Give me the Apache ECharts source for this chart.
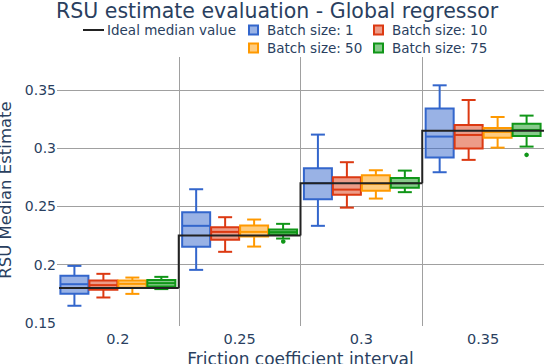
<!DOCTYPE html>
<html>
<head>
<meta charset="utf-8">
<script src="https://cdn.jsdelivr.net/npm/echarts@6/dist/echarts.min.js"></script>
<style>
  html, body { margin: 0; padding: 0; background: #fff; }
  #chart { width: 544px; height: 364px; }
</style>
</head>
<body>
<div id="chart"></div>
<script>
(function() {
  // friction coefficient intervals
  var categories = ['0.2', '0.25', '0.3', '0.35'];
  var idealMedian = [0.18, 0.225, 0.27, 0.315];

  // [lower whisker, q1, median, q3, upper whisker] per interval
  var batch1 = [
    [0.1648, 0.175, 0.1833, 0.1905, 0.199],
    [0.1956, 0.2154, 0.2334, 0.2451, 0.2648],
    [0.2334, 0.2562, 0.27, 0.2828, 0.3117],
    [0.2794, 0.292, 0.31, 0.334, 0.354]
  ];
  var batch10 = [
    [0.1719, 0.1785, 0.1825, 0.1864, 0.1922],
    [0.2111, 0.2214, 0.2282, 0.2322, 0.2408],
    [0.249, 0.26, 0.2645, 0.2751, 0.288],
    [0.29, 0.2997, 0.3114, 0.32, 0.3414]
  ];
  var batch50 = [
    [0.175, 0.1802, 0.1836, 0.1864, 0.189],
    [0.2156, 0.2242, 0.2282, 0.2336, 0.2388],
    [0.2568, 0.2634, 0.2695, 0.2768, 0.2811],
    [0.3005, 0.3091, 0.314, 0.3174, 0.3268]
  ];
  var batch75 = [
    [0.1791, 0.1813, 0.1842, 0.1868, 0.1896],
    [0.2225, 0.2259, 0.228, 0.2302, 0.2351],
    [0.2623, 0.266, 0.27, 0.2745, 0.2808],
    [0.3014, 0.3105, 0.3157, 0.3211, 0.328]
  ];
  // [interval index, value]
  var outliers75 = [[1, 0.2208], [3, 0.2943]];

  var yTicks = [0.15, 0.2, 0.25, 0.3, 0.35];

  var ink = '#2a3f5f';
  var grid = '#a0a0a0';
  var colors = ['#3366CC', '#DC3912', '#FF9900', '#109618'];
  var fills = ['rgba(51,102,204,0.5)', 'rgba(220,57,18,0.5)', 'rgba(255,153,0,0.5)', 'rgba(16,150,24,0.5)'];
  var names = ['Batch size: 1', 'Batch size: 10', 'Batch size: 50', 'Batch size: 75'];
  var batches = [batch1, batch10, batch50, batch75];

  function boxRenderer(k) {
    return function(params, api) {
      var ci = api.value(0);
      var bw = api.size([1, 0])[0];
      var cx = api.coord([ci, 0])[0] + (k - 1.5) * 0.238 * bw;
      var w = 0.23 * bw;
      var yLo = api.coord([ci, api.value(1)])[1];
      var yQ1 = api.coord([ci, api.value(2)])[1];
      var yMed = api.coord([ci, api.value(3)])[1];
      var yQ3 = api.coord([ci, api.value(4)])[1];
      var yHi = api.coord([ci, api.value(5)])[1];
      var ls = { stroke: colors[k], lineWidth: 2 };
      return {
        type: 'group',
        children: [
          { type: 'line', shape: { x1: cx, y1: yQ3, x2: cx, y2: yHi }, style: ls },
          { type: 'line', shape: { x1: cx, y1: yQ1, x2: cx, y2: yLo }, style: ls },
          { type: 'line', shape: { x1: cx - w / 4, y1: yHi, x2: cx + w / 4, y2: yHi }, style: ls },
          { type: 'line', shape: { x1: cx - w / 4, y1: yLo, x2: cx + w / 4, y2: yLo }, style: ls },
          { type: 'rect', shape: { x: cx - w / 2, y: yQ3, width: w, height: yQ1 - yQ3 },
            style: { fill: fills[k], stroke: colors[k], lineWidth: 2 } },
          { type: 'line', shape: { x1: cx - w / 2, y1: yMed, x2: cx + w / 2, y2: yMed }, style: ls }
        ]
      };
    };
  }

  var series = batches.map(function(b, k) {
    return {
      name: names[k],
      type: 'custom',
      itemStyle: { color: fills[k], borderColor: colors[k], borderWidth: 1.5 },
      renderItem: boxRenderer(k),
      encode: { x: 0, y: [1, 2, 3, 4, 5] },
      data: b.map(function(v, i) { return [i].concat(v); }),
      z: 2
    };
  });

  series.push({
    name: names[3],
    type: 'custom',
    itemStyle: { color: fills[3], borderColor: colors[3], borderWidth: 1.5 },
    renderItem: function(params, api) {
      var ci = api.value(0);
      var bw = api.size([1, 0])[0];
      var p = api.coord([ci, api.value(1)]);
      return { type: 'circle', shape: { cx: p[0] + 1.5 * 0.238 * bw, cy: p[1], r: 2.3 },
        style: { fill: colors[3] } };
    },
    encode: { x: 0, y: 1 },
    data: outliers75,
    z: 3
  });

  series.push({
    name: 'Ideal median value',
    type: 'custom',
    itemStyle: { color: '#222' },
    renderItem: function(params, api) {
      var ci = api.value(0);
      var bw = api.size([1, 0])[0];
      var c = api.coord([ci, api.value(1)]);
      var prevY = api.coord([ci, api.value(2)])[1];
      var left = c[0] - bw / 2;
      if (ci === 0) left += 2;
      return {
        type: 'polyline',
        shape: { points: [[left, prevY], [left, c[1]], [c[0] + bw / 2, c[1]]] },
        style: { stroke: '#222', lineWidth: 2, fill: null }
      };
    },
    encode: { x: 0, y: 1 },
    data: idealMedian.map(function(v, i) { return [i, v, i > 0 ? idealMedian[i - 1] : v]; }),
    z: 5
  });

  var legendText = { color: ink, fontSize: 13.5, lineHeight: 14, padding: [0, 0, 0, 4] };

  var chart = echarts.init(document.getElementById('chart'), null, { renderer: 'svg' });
  chart.setOption({
    animation: false,
    textStyle: { fontFamily: 'DejaVu Sans' },
    title: {
      text: 'RSU estimate evaluation - Global regressor',
      left: 56,
      top: 0,
      padding: 0,
      textStyle: { color: ink, fontSize: 20.5, fontWeight: 'normal', fontFamily: 'DejaVu Sans' }
    },
    legend: [
      {
        data: [{ name: 'Ideal median value', icon: 'rect', itemStyle: { color: '#222', borderWidth: 0 } }],
        left: 83, top: 23, padding: 0,
        itemWidth: 21, itemHeight: 2,
        textStyle: { color: ink, fontSize: 13.5, lineHeight: 14, padding: [0, 0, 0, -2] }
      },
      {
        data: [names[0], names[2]].map(function(n) { return { name: n, icon: 'rect' }; }),
        left: 248, top: 23, padding: 0, orient: 'vertical', itemGap: 4,
        itemWidth: 9, itemHeight: 9,
        textStyle: legendText
      },
      {
        data: [names[1], names[3]].map(function(n) { return { name: n, icon: 'rect' }; }),
        left: 373, top: 23, padding: 0, orient: 'vertical', itemGap: 4,
        itemWidth: 9, itemHeight: 9,
        textStyle: legendText
      }
    ],
    grid: { left: 57, right: 0, top: 57, bottom: 41, containLabel: false, outerBoundsMode: 'none' },
    xAxis: {
      type: 'category',
      data: categories,
      name: 'Friction coefficient interval',
      nameLocation: 'middle',
      nameGap: 26,
      nameTextStyle: { color: ink, fontSize: 17 },
      axisLine: { show: false },
      axisTick: { show: true, length: 3, interval: function(i) { return i > 0; }, lineStyle: { color: grid } },
      axisLabel: { color: ink, fontSize: 14.5, margin: 8 },
      splitLine: { show: true, showMinLine: false, showMaxLine: false, lineStyle: { color: grid, width: 1 } }
    },
    yAxis: {
      type: 'value',
      min: yTicks[0],
      max: 0.3783,
      interval: 0.05,
      name: 'RSU Median Estimate',
      nameLocation: 'middle',
      nameRotate: 90,
      nameGap: 39,
      nameTextStyle: { color: ink, fontSize: 16.5 },
      axisLine: { show: false },
      axisTick: { show: false },
      axisLabel: { color: ink, fontSize: 14, margin: 1, showMaxLabel: false },
      splitLine: { show: true, showMinLine: false, showMaxLine: false, lineStyle: { color: grid, width: 1 } }
    },
    series: series
  });
  window.addEventListener('resize', function() { chart.resize(); });
})();
</script>
</body>
</html>
